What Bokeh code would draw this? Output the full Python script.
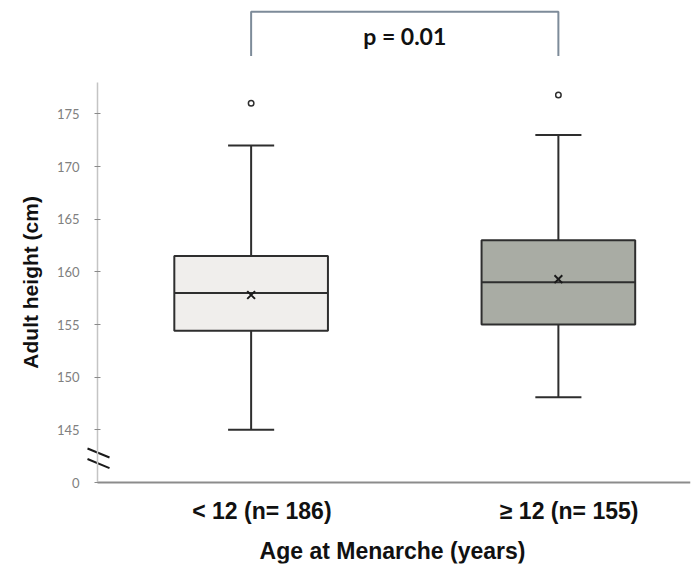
import math
from bokeh.plotting import figure
from bokeh.models import Range1d, FixedTicker, ColumnDataSource
from bokeh.core.properties import value
from bokeh.embed import file_html
from bokeh.resources import INLINE

# ---- data ----
groups = ["< 12 (n= 186)", "\u2265 12 (n= 155)"]
positions = [1, 2]
q1 = [154.4, 155.0]
median = [158.0, 159.0]
q3 = [161.5, 163.0]
whisker_low = [145.0, 148.1]
whisker_high = [172.0, 173.0]
means = [157.8, 159.3]
outliers = [176.0, 176.8]
fills = ["#f0eeec", "#a9aca4"]
y_ticks = [140, 145, 150, 155, 160, 165, 170, 175]
y_tick_labels = {140: "0"}
p_value_text = "p = 0.01"
y_title = "Adult height (cm)"
x_title = "Age at Menarche (years)"

# ---- layout / styling constants ----
PX = 307.25                 # pixels per x unit
PY = 10.533                 # pixels per y unit
AXIS_X = 0.5                # where the y axis sits
AXIS_Y = 140                # where the x axis sits (shown as "0")
X0 = AXIS_X - 89 / PX       # frame extends past the axes so side texts are not clipped
X1 = 2.43
Y0 = AXIS_Y - 81 / PY
Y1 = AXIS_Y + 474 / PY
AXIS_TOP = 178
BOX_W = 0.5
CAP_W = 0.15
LINE = "#2e2e2e"
BRACKET_TOP = 184.7
BRACKET_LEG = 180.5
P_TEXT_Y = 182.35
LABEL_SHIFT = 0.035
Y_TITLE_X = AXIS_X - 67 / PX
X_TITLE_X = AXIS_X + 295 / PX
X_TITLE_Y = AXIS_Y - 68 / PY
BREAK_Y = [142.8, 141.8]
BREAK_HALF_DY = 0.43

p = figure(width=692, height=571, output_backend="svg", toolbar_location=None,
           x_range=Range1d(X0, X1), y_range=Range1d(Y0, Y1),
           min_border_left=8, min_border_right=2, min_border_top=8,
           min_border_bottom=8)
p.outline_line_color = None
p.xgrid.visible = False
p.ygrid.visible = False
p.background_fill_color = "white"

src = ColumnDataSource(dict(
    x=positions, q1=q1, med=median, q3=q3, lo=whisker_low, hi=whisker_high,
    mean=means, out=outliers, fill=fills,
    bl=[x - BOX_W / 2 for x in positions], br=[x + BOX_W / 2 for x in positions],
    cl=[x - CAP_W / 2 for x in positions], cr=[x + CAP_W / 2 for x in positions],
))

# whiskers
p.segment(x0="x", y0="q3", x1="x", y1="hi", source=src, line_color=LINE, line_width=2)
p.segment(x0="x", y0="q1", x1="x", y1="lo", source=src, line_color=LINE, line_width=2)
p.segment(x0="cl", y0="hi", x1="cr", y1="hi", source=src, line_color=LINE, line_width=2)
p.segment(x0="cl", y0="lo", x1="cr", y1="lo", source=src, line_color=LINE, line_width=2)
# boxes
p.vbar(x="x", width=BOX_W, bottom="q1", top="q3", source=src, fill_color="fill",
       line_color=LINE, line_width=2)
# median
p.segment(x0="bl", y0="med", x1="br", y1="med", source=src, line_color=LINE, line_width=2)
# mean
p.scatter(x="x", y="mean", source=src, marker="x", size=11, line_color="#1a1a1a", line_width=2)
# outliers
p.scatter(x="x", y="out", source=src, marker="circle", size=5.5, fill_color="white",
          line_color=LINE, line_width=1.5)

# significance bracket
p.line(x=[positions[0], positions[0], positions[1], positions[1]],
       y=[BRACKET_LEG, BRACKET_TOP, BRACKET_TOP, BRACKET_LEG],
       line_color="#7d8b99", line_width=2)
p.text(x=[(positions[0] + positions[1]) / 2], y=[P_TEXT_Y], text=[p_value_text],
       text_align="center", text_baseline="middle", text_font=value("Lato"),
       text_font_style="bold", text_font_size="23px", text_color="#111111")

# axis break mark: two short slanted strokes across the y axis
p.segment(x0=[AXIS_X - 10 / PX] * 2, x1=[AXIS_X + 12 / PX] * 2,
          y0=[b + BREAK_HALF_DY for b in BREAK_Y], y1=[b - BREAK_HALF_DY for b in BREAK_Y],
          line_color="#1a1a1a", line_width=2)

# axis titles
p.text(x=[Y_TITLE_X], y=[(AXIS_Y + AXIS_TOP) / 2], text=[y_title], angle=math.pi / 2,
       text_align="center", text_baseline="middle",
       text_font=value("Liberation Sans"), text_font_style="bold",
       text_font_size="21px", text_color="#111111")
p.text(x=[X_TITLE_X], y=[X_TITLE_Y], text=[x_title],
       text_align="center", text_baseline="middle",
       text_font=value("Liberation Sans"), text_font_style="bold",
       text_font_size="23px", text_color="#111111")

# y axis, pinned at AXIS_X
ya = p.yaxis[0]
ya.fixed_location = AXIS_X
ya.ticker = FixedTicker(ticks=y_ticks)
ya.major_label_overrides = y_tick_labels
ya.bounds = (AXIS_Y, AXIS_TOP)
ya.minor_tick_line_color = None
ya.major_tick_out = 3
ya.major_tick_in = 3
ya.major_tick_line_color = "#8a8a8a"
ya.axis_line_color = "#c4c4c4"
ya.axis_line_width = 1.5
ya.major_label_standoff = 15
ya.major_label_text_font = "Lato"
ya.major_label_text_font_size = "13px"
ya.major_label_text_color = "#808080"

# x axis, pinned at AXIS_Y
tick_pos = [pos + LABEL_SHIFT for pos in positions]
xa = p.xaxis[0]
xa.fixed_location = AXIS_Y
xa.bounds = (AXIS_X, X1)
xa.ticker = FixedTicker(ticks=tick_pos)
xa.major_label_overrides = {t: g for t, g in zip(tick_pos, groups)}
xa.minor_tick_line_color = None
xa.major_tick_out = 0
xa.major_tick_in = 0
xa.axis_line_color = "#8c8c8c"
xa.axis_line_width = 2
xa.major_label_standoff = 15
xa.major_label_text_font = "Liberation Sans"
xa.major_label_text_font_style = "bold"
xa.major_label_text_font_size = "23px"
xa.major_label_text_color = "#111111"

open("out.html", "w").write(file_html(p, INLINE))
